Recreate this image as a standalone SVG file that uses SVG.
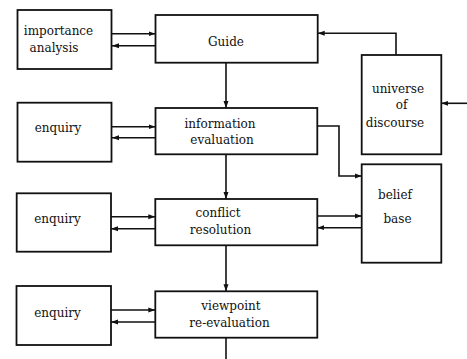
<svg xmlns="http://www.w3.org/2000/svg" width="467" height="359" viewBox="0 0 467 359">
<defs>
<style>
.box{fill:#fff;stroke:#111;stroke-width:1.8}
.ln{fill:none;stroke:#111;stroke-width:1.6;marker-end:url(#ah)}
.pl{fill:none;stroke:#111;stroke-width:1.6}
text{font-family:"DejaVu Serif","Liberation Serif",serif;font-size:12px;fill:#111;text-anchor:middle}
</style>
<marker id="ah" markerUnits="userSpaceOnUse" markerWidth="8" markerHeight="6" refX="7" refY="3" orient="auto">
<path d="M0,0.5 L7,3 L0,5.5 Z" fill="#111"/>
</marker>
</defs>
<rect width="467" height="359" fill="#fff"/>
<g id="connectors">
<line class="ln" x1="112" y1="33.7" x2="155.5" y2="33.7"/>
<line class="ln" x1="155.5" y1="45.7" x2="112" y2="45.7"/>
<line class="ln" x1="112" y1="126.7" x2="155.5" y2="126.7"/>
<line class="ln" x1="155.5" y1="137.7" x2="112" y2="137.7"/>
<line class="ln" x1="111" y1="216.7" x2="155.3" y2="216.7"/>
<line class="ln" x1="155.3" y1="228.7" x2="111" y2="228.7"/>
<line class="ln" x1="111" y1="310" x2="155.3" y2="310"/>
<line class="ln" x1="155.3" y1="322" x2="111" y2="322"/>
<line class="ln" x1="226" y1="63" x2="226" y2="108"/>
<line class="ln" x1="226" y1="154.3" x2="226" y2="199"/>
<line class="ln" x1="226" y1="245.3" x2="226" y2="291.3"/>
<line class="pl" x1="226" y1="337.7" x2="226" y2="359"/>
<polyline class="ln" points="396,55 396,33.3 317.7,33.3"/>
<line class="ln" x1="467" y1="103.3" x2="441.3" y2="103.3"/>
<polyline class="ln" points="317.3,126 339,126 339,176 361.7,176"/>
<line class="ln" x1="317.3" y1="216" x2="361.7" y2="216"/>
<line class="ln" x1="361.7" y1="227.7" x2="317.3" y2="227.7"/>
</g>
<g id="importance-analysis"><rect class="box" x="17.5" y="10" width="94" height="59"/><text x="58.5" y="35">importance</text><text x="54" y="51.7">analysis</text></g>
<g id="guide"><rect class="box" x="155.5" y="15" width="162.2" height="47.7"/><text x="226" y="46">Guide</text></g>
<g id="enquiry1"><rect class="box" x="17.5" y="102.7" width="94" height="59"/><text x="58" y="132">enquiry</text></g>
<g id="information-evaluation"><rect class="box" x="155.5" y="108" width="161.8" height="46.3"/><text x="220" y="127.5">information</text><text x="222" y="143.5">evaluation</text></g>
<g id="universe-of-discourse"><rect class="box" x="361.7" y="55" width="79.6" height="99.3"/><text x="398" y="92.7">universe</text><text x="401.5" y="108.5">of</text><text x="395" y="126.5">discourse</text></g>
<g id="enquiry2"><rect class="box" x="16.7" y="193.3" width="94.3" height="58.4"/><text x="57.5" y="223.3">enquiry</text></g>
<g id="conflict-resolution"><rect class="box" x="155.3" y="199" width="162" height="46.3"/><text x="218" y="216.7">conflict</text><text x="220.5" y="234">resolution</text></g>
<g id="belief-base"><rect class="box" x="361.7" y="164.3" width="79.6" height="98.4"/><text x="395" y="199.3">belief</text><text x="397.5" y="222.7">base</text></g>
<g id="enquiry3"><rect class="box" x="16.5" y="286" width="94.5" height="59"/><text x="57.5" y="316.7">enquiry</text></g>
<g id="viewpoint-re-evaluation"><rect class="box" x="155.3" y="291.3" width="162" height="46.4"/><text x="231" y="310">viewpoint</text><text x="229.5" y="326.7">re-evaluation</text></g>
</svg>
